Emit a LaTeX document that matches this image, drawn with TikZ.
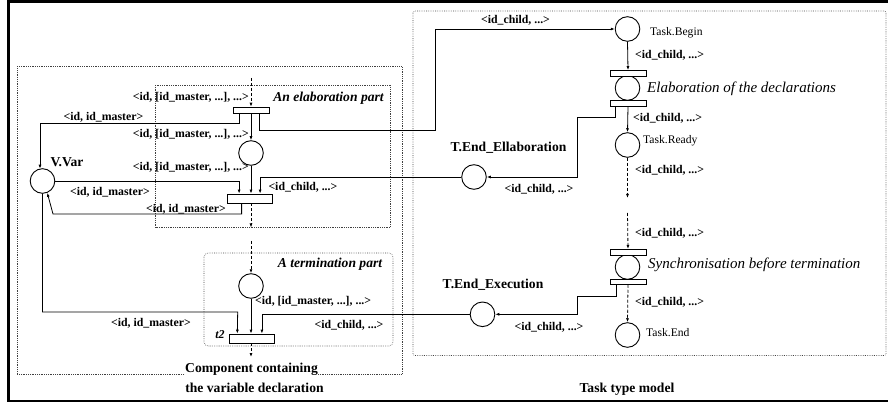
\documentclass[tikz,border=0pt]{standalone}
\usepackage{fontspec}
\setmainfont{LiberationSerif}[Extension=.ttf,UprightFont=*-Regular,BoldFont=*-Bold,ItalicFont=*-Italic,BoldItalicFont=*-BoldItalic]
\usetikzlibrary{arrows.meta,calc}

\begin{document}
\begin{tikzpicture}[x=1pt,y=-1pt,
  place/.style={circle,draw,line width=0.9pt,minimum size=24.6pt,inner sep=0pt},
  trans/.style={rectangle,draw,fill=white,line width=0.8pt,inner sep=0pt},
  arr/.style={line width=0.8pt,-{Latex[length=4pt,width=3pt]}},
  dasharr/.style={arr,dash pattern=on 3pt off 2pt},
  zone/.style={draw=black!75,line width=0.6pt,dash pattern=on 0.6pt off 1.2pt},
  lbl/.style={font=\fontsize{11.8}{13}\selectfont\bfseries,inner sep=0pt},
  title/.style={font=\fontsize{13.6}{15}\selectfont\bfseries,inner sep=0pt},
  part/.style={font=\fontsize{13.6}{15}\selectfont\bfseries\itshape,inner sep=0pt},
  phase/.style={font=\fontsize{15}{17}\selectfont\itshape,inner sep=0pt},
  pname/.style={font=\fontsize{11.6}{13}\selectfont,inner sep=0pt},
]
\useasboundingbox (0,0) rectangle (888,403);

% outer frame
\draw[line width=2.7pt] (895,1.35) -- (8.7,1.35) -- (8.7,401) -- (895,401);

% dotted zones
\draw[zone] (17,66.5) rectangle (402,374);
\draw[zone] (155.5,85) rectangle (390,227.5);
\draw[zone,rounded corners=4pt] (204,253) rectangle (393,346);
\draw[zone,rounded corners=2pt] (413,11) rectangle (886,355.5);

% zone titles
\node[title,fill=white,anchor=base] (comp) at (251.5,372.8) {Component containing};
\node[title,anchor=base] (decl) at (254.5,392) {the variable declaration};
\node[title,anchor=base] (ttm) at (627,392.5) {Task type model};
\node[part,anchor=base] (elabpart) at (328.5,101.5) {An elaboration part};
\node[part,anchor=base] (termpart) at (330,267.5) {A termination part};

% places
\node[place] (vvar) at (42.5,181) {};
\node[place] (pe) at (251,153) {};
\node[place] (pt) at (251,286) {};
\node[place] (tee) at (474,177) {};
\node[place] (tex) at (482.5,314.3) {};
\node[place] (tb) at (627.5,29) {};
\node[place] (pd) at (627.5,88) {};
\node[place] (tr) at (627.5,145) {};
\node[place] (ps) at (627.5,267) {};
\node[place] (te) at (627.5,335) {};

% transitions
\node[trans,minimum width=36pt,minimum height=6.3pt] (t1) at (251,110.3) {};
\node[trans,minimum width=45pt,minimum height=9pt] (t2e) at (250,198.5) {};
\node[trans,minimum width=45pt,minimum height=9pt] (tt) at (251.5,338.5) {};
\node[trans,minimum width=36pt,minimum height=5.5pt] (d1) at (628,73.3) {};
\node[trans,minimum width=36pt,minimum height=6pt] (d2) at (628,103) {};
\node[trans,minimum width=36pt,minimum height=5.7pt] (s1) at (628,252.2) {};
\node[trans,minimum width=36pt,minimum height=5.3pt] (s2) at (628,281.7) {};

% free ends of the dashed flow
\coordinate (in1) at (251,78);
\coordinate (out1) at (251,227.5);
\coordinate (in2) at (251,241);
\coordinate (out2) at (251,357);
\coordinate (out3) at (627.5,198);
\coordinate (in3) at (627.5,213);

% component containing the variable declaration
\draw[dasharr] (in1) -- (t1.north);
\draw[arr] (t1.south) -- (pe.north);
\draw[arr] ($(t1.south west)+(7,0)$) |- (40,123.3) -- ($(vvar.center)+(-2.5,-12.3)$);
\draw[arr] ($(t1.south west)+(27,0)$) |- (435,130) |- (tb.west);
\draw[arr] (pe.south) -- (pe.south |- t2e.north);
\draw[arr] (vvar.east) -| ($(t2e.north west)+(12,0)$);
\draw[arr] (tee.west) -| ($(t2e.north west)+(33,0)$);
\draw[arr] ($(t2e.south west)+(14.5,0)$) |- (53,214) -- (vvar.-68);
\draw[dasharr] (t2e.south -| pe.south) -- (out1);
\draw[dasharr] (in2) -- (pt.north);
\draw[arr] (vvar.south) |- (237.7,312) -- ($(tt.north west)+(8.7,0)$);
\draw[arr] (pt.south) -- (pt.south |- tt.north);
\draw[arr] (tex.west) -| ($(tt.north west)+(33.3,0)$);
\draw[dasharr] (tt.south -| pt.south) -- (out2);

% task type model
\draw[arr] (tb.south) -- (d1.north);
\draw[arr] (d2.south) -- (tr.north);
\draw[arr] ($(d2.south west)+(6,0)$) |- (577.7,117.3) |- (tee.east);
\draw[dasharr] (tr.south) -- (out3);
\draw[dasharr] (in3) -- (s1.north);
\draw[dasharr] (s2.south) -- (te.north);
\draw[arr] ($(s2.south west)+(6.7,0)$) |- (577.3,296) |- (tex.east);

% place names
\node[title,anchor=base] (vvarname) at (67,166.2) {V.Var};
\node[title,anchor=base] (teename) at (508.5,151.2) {T.End\_Ellaboration};
\node[title,anchor=base] (texname) at (493,288.8) {T.End\_Execution};
\node[pname,anchor=base west] (tbname) at (650,35.5) {Task.Begin};
\node[pname,anchor=base west] (trname) at (643,143.1) {Task.Ready};
\node[pname,anchor=base west] (tename) at (646,336.5) {Task.End};
\node[phase,anchor=base west] (pdname) at (647,92.3) {Elaboration of the declarations};
\node[phase,anchor=base west] (psname) at (648,269) {Synchronisation before termination};
\node[part,font=\fontsize{12}{13}\selectfont\bfseries\itshape,anchor=base] (ttname) at (220,338.5) {t2};

% arc inscriptions
\node[lbl,anchor=base east] (a1) at (249,100.6) {<id, [id\_master, ...], ...>};
\node[lbl,anchor=base] (a2) at (103.5,120.6) {<id, id\_master>};
\node[lbl,anchor=base east] (a3) at (249,137.2) {<id, [id\_master, ...], ...>};
\node[lbl,anchor=base east] (a4) at (249,170.6) {<id, [id\_master, ...], ...>};
\node[lbl,anchor=base] (a5) at (110,195.6) {<id, id\_master>};
\node[lbl,anchor=base] (a6) at (186,212.2) {<id, id\_master>};
\node[lbl,anchor=base west] (a7) at (268.3,190.6) {<id\_child, ...>};
\node[lbl,anchor=base west] (a8) at (255,304.6) {<id, [id\_master, ...], ...>};
\node[lbl,anchor=base] (a9) at (349,328.9) {<id\_child, ...>};
\node[lbl,anchor=base] (a10) at (151,326.6) {<id, id\_master>};
\node[lbl,anchor=base] (a11) at (515.5,23.9) {<id\_child, ...>};
\node[lbl,anchor=base west] (a12) at (635,58.9) {<id\_child, ...>};
\node[lbl,anchor=base west] (a13) at (633,121.2) {<id\_child, ...>};
\node[lbl,anchor=base] (a14) at (539,192.9) {<id\_child, ...>};
\node[lbl,anchor=base west] (a15) at (635,173.2) {<id\_child, ...>};
\node[lbl,anchor=base west] (a16) at (635,236.6) {<id\_child, ...>};
\node[lbl,anchor=base west] (a17) at (635,305.6) {<id\_child, ...>};
\node[lbl,anchor=base] (a18) at (549,330.6) {<id\_child, ...>};
\end{tikzpicture}
\end{document}
